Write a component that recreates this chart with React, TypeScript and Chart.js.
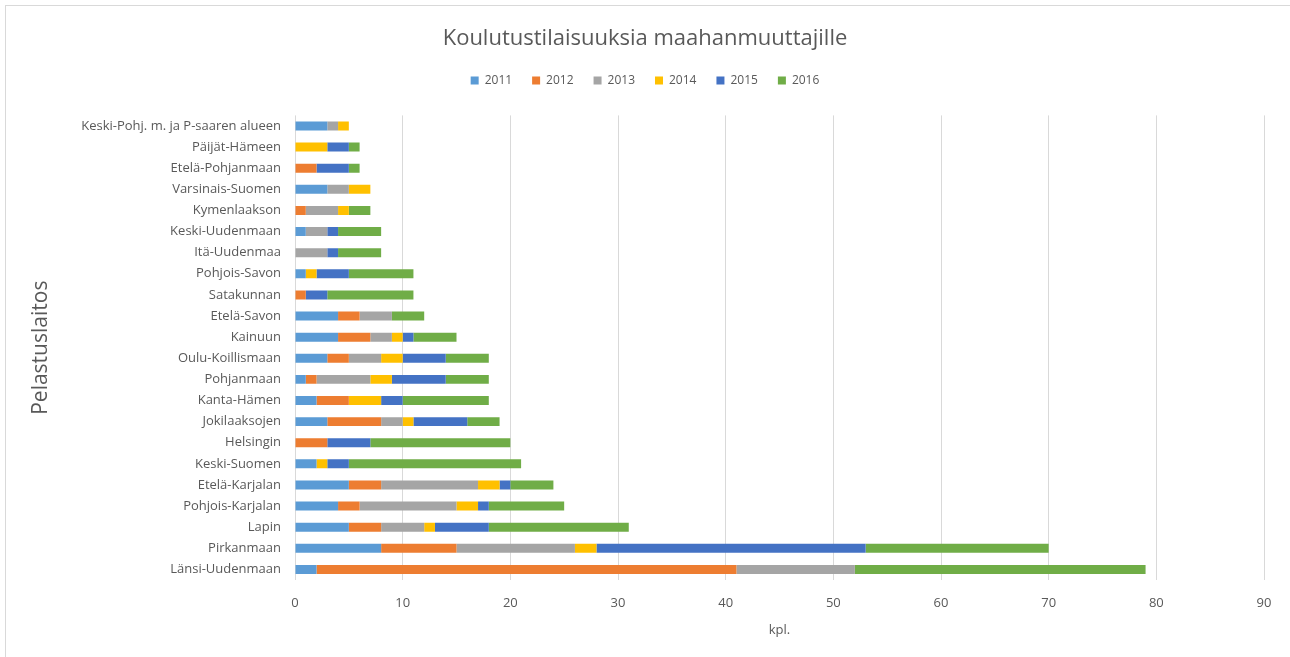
import React, { useEffect, useRef } from "react";
import { Chart, registerables } from "chart.js";

Chart.register(...registerables);

const categories = [
  "Keski-Pohj. m. ja P-saaren alueen",
  "Päijät-Hämeen",
  "Etelä-Pohjanmaan",
  "Varsinais-Suomen",
  "Kymenlaakson",
  "Keski-Uudenmaan",
  "Itä-Uudenmaa",
  "Pohjois-Savon",
  "Satakunnan",
  "Etelä-Savon",
  "Kainuun",
  "Oulu-Koillismaan",
  "Pohjanmaan",
  "Kanta-Hämen",
  "Jokilaaksojen",
  "Helsingin",
  "Keski-Suomen",
  "Etelä-Karjalan",
  "Pohjois-Karjalan",
  "Lapin",
  "Pirkanmaan",
  "Länsi-Uudenmaan",
];

const years = ["2011", "2012", "2013", "2014", "2015", "2016"];

const y2011 = [3, 0, 0, 3, 0, 1, 0, 1, 0, 4, 4, 3, 1, 2, 3, 0, 2, 5, 4, 5, 8, 2];
const y2012 = [0, 0, 2, 0, 1, 0, 0, 0, 1, 2, 3, 2, 1, 3, 5, 3, 0, 3, 2, 3, 7, 39];
const y2013 = [1, 0, 0, 2, 3, 2, 3, 0, 0, 3, 2, 3, 5, 0, 2, 0, 0, 9, 9, 4, 11, 11];
const y2014 = [1, 3, 0, 2, 1, 0, 0, 1, 0, 0, 1, 2, 2, 3, 1, 0, 1, 2, 2, 1, 2, 0];
const y2015 = [0, 2, 3, 0, 0, 1, 1, 3, 2, 0, 1, 4, 5, 2, 5, 4, 2, 1, 1, 5, 25, 0];
const y2016 = [0, 1, 1, 0, 2, 4, 4, 6, 8, 3, 4, 4, 4, 8, 3, 13, 16, 4, 7, 13, 17, 27];

const seriesValues = [y2011, y2012, y2013, y2014, y2015, y2016];
const seriesColors = ["#5B9BD5", "#ED7D31", "#A5A5A5", "#FFC000", "#4472C4", "#70AD47"];

const titleText = "Koulutustilaisuuksia maahanmuuttajille";
const xTitle = "kpl.";
const yTitle = "Pelastuslaitos";

const FONT = "'Open Sans', 'Liberation Sans', sans-serif";
const TEXT = "#595959";

const legendSpacer = {
  id: "legendSpacer",
  beforeInit(chart: any) {
    const legend = chart.legend;
    if (!legend) return;
    const orig = legend.fit;
    legend.fit = function () {
      orig.bind(legend)();
      this.height += 19;
    };
  },
};

export default function App() {
  const ref = useRef<HTMLCanvasElement | null>(null);

  useEffect(() => {
    if (!ref.current) return;
    const chart = new Chart(ref.current, {
      type: "bar",
      data: {
        labels: categories,
        datasets: years.map((y, i) => ({
          label: y,
          data: seriesValues[i],
          backgroundColor: seriesColors[i],
          borderWidth: 0,
          categoryPercentage: 0.5,
          barPercentage: 0.85,
        })),
      },
      plugins: [legendSpacer],
      options: {
        indexAxis: "y",
        animation: false,
        responsive: false,
        maintainAspectRatio: false,
        layout: { padding: { left: 26, right: 26, top: 0, bottom: 19 } },
        plugins: {
          title: {
            display: true,
            text: titleText,
            color: TEXT,
            font: { family: FONT, size: 22, weight: "normal" },
            padding: { top: 26, bottom: 2 },
          },
          legend: {
            display: true,
            position: "top",
            labels: {
              boxWidth: 8,
              boxHeight: 8,
              padding: 20,
              color: TEXT,
              font: { family: FONT, size: 12 },
            },
          },
          tooltip: { enabled: false },
        },
        scales: {
          x: {
            stacked: true,
            min: 0,
            max: 90,
            ticks: {
              stepSize: 10,
              color: TEXT,
              padding: 15,
              font: { family: FONT, size: 13 },
            },
            grid: { color: "#D9D9D9", drawTicks: false },
            border: { display: false },
            title: {
              display: true,
              text: xTitle,
              color: TEXT,
              font: { family: FONT, size: 13 },
              padding: { top: 4, bottom: 0 },
            },
            afterFit(scale: any) {
              scale.height = 657 - 19 - 580;
            },
          },
          y: {
            stacked: true,
            ticks: {
              color: TEXT,
              padding: 14,
              autoSkip: false,
              font: { family: FONT, size: 13 },
            },
            grid: { display: false, drawTicks: false },
            border: { display: false },
            title: {
              display: true,
              text: yTitle,
              color: TEXT,
              font: { family: FONT, size: 21 },
              padding: { top: 2, bottom: 0 },
            },
            afterFit(scale: any) {
              scale.width = 269;
            },
          },
        },
      },
    });
    return () => chart.destroy();
  }, []);

  return (
    <div style={{ position: "fixed", left: 0, top: 0, width: 1290, height: 657, background: "#fff" }}>
      <div
        style={{
          position: "absolute",
          left: 5,
          top: 5,
          width: 1285,
          height: 652,
          borderTop: "1px solid #D9D9D9",
          borderLeft: "1px solid #D9D9D9",
          boxSizing: "border-box",
        }}
      />
      <canvas ref={ref} width={1290} height={657} style={{ position: "absolute", left: 0, top: 0, width: 1290, height: 657 }} />
    </div>
  );
}
